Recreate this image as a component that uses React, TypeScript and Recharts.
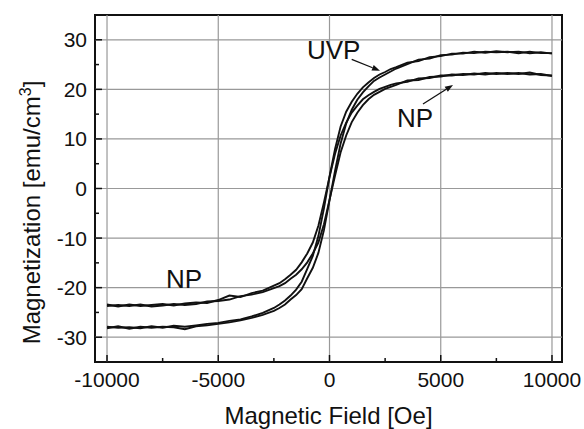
import React from "react"
import { LineChart, Line, XAxis, YAxis, ReferenceLine, ReferenceArea, ReferenceDot } from "recharts"

// applied field, Oe
const fields = [
  -10000, -9500, -9000, -8500, -8000, -7500, -7000, -6500, -6000, -5500, -5000, -4500, -4000, -3500, -3000,
  -2750, -2500, -2250, -2000, -1750, -1500, -1250, -1000, -750, -500, -250, 0, 250, 500, 750, 1000, 1250, 1500, 1750,
  2000, 2250, 2500, 2750, 3000, 3500, 4000, 4500, 5000, 5500, 6000, 6500, 7000, 7500, 8000, 8500, 9000, 9500, 10000,
]

// magnetization, emu/cm3 - descending / ascending branches
const uvpDesc = [
  -27.9, -28.1, -28.0, -28.2, -27.8, -28.1, -27.7, -27.9, -27.6, -27.3, -27.1, -26.7, -26.4, -25.8, -25.1,
  -24.6, -24.1, -23.4, -22.6, -21.6, -20.4, -18.8, -16.2, -13.6, -9.6, -4.0, 2.4, 8.0, 12.5, 15.5, 17.5, 19.1, 20.4, 21.4,
  22.3, 23.0, 23.5, 24.1, 24.5, 25.4, 25.7, 26.5, 26.7, 27.2, 27.2, 27.6, 27.4, 27.7, 27.5, 27.6, 27.3, 27.5, 27.2,
]
const uvpAsc = [
  -28.2, -27.8, -28.3, -27.9, -28.1, -27.9, -28.0, -28.4, -27.8, -27.6, -27.3, -27.0, -26.6, -26.1, -25.5,
  -25.1, -24.7, -24.1, -23.4, -22.4, -21.5, -20.3, -18.1, -16.0, -13.0, -8.4, -2.4, 3.6, 9.1, 13.1, 15.9, 17.9, 19.4, 20.6,
  21.7, 22.4, 23.0, 23.6, 24.2, 25.1, 26.0, 26.2, 26.9, 27.0, 27.4, 27.3, 27.6, 27.5, 27.6, 27.3, 27.6, 27.3, 27.3,
]
const npDesc = [
  -23.4, -23.8, -23.4, -23.7, -23.5, -23.3, -23.6, -23.2, -23.0, -23.1, -22.5, -21.6, -21.9, -21.1, -20.6,
  -20.1, -19.6, -19.1, -18.3, -17.4, -16.4, -14.9, -13.1, -10.9, -7.5, -2.8, 2.3, 7.0, 10.7, 13.3, 15.3, 16.7, 18.0, 18.8,
  19.5, 20.1, 20.5, 20.9, 21.2, 21.5, 22.2, 22.3, 22.8, 22.8, 23.1, 23.0, 23.3, 23.1, 23.3, 23.1, 23.4, 22.9, 22.8,
]
const npAsc = [
  -23.7, -23.5, -23.7, -23.4, -23.8, -23.6, -23.3, -23.5, -23.3, -22.8, -22.7, -22.4, -21.7, -21.4, -20.9,
  -20.5, -20.1, -19.7, -19.1, -18.2, -17.4, -16.3, -14.9, -13.1, -10.9, -7.2, -2.3, 2.6, 7.3, 10.7, 13.4, 15.3, 16.8, 18.0,
  18.9, 19.5, 20.1, 20.5, 20.9, 21.8, 21.9, 22.5, 22.6, 23.0, 22.9, 23.2, 23.0, 23.3, 23.1, 23.3, 23.0, 23.1, 22.7,
]

const xTicks = [-10000, -7500, -5000, -2500, 0, 2500, 5000, 7500, 10000]
const yTicks = [-30, -25, -20, -15, -10, -5, 0, 5, 10, 15, 20, 25, 30]
const xGrid = [-10000, -5000, 0, 5000, 10000]
const yGrid = [-30, -20, -10, 0, 10, 20, 30]
const xDomain: [number, number] = [-10540, 10450]
const yDomain: [number, number] = [-35, 35]

const FONT = "'Liberation Sans', Arial, sans-serif"
const INK = "#111"

const toSeries = (vals: number[]) => fields.map((h, i) => ({ h, m: vals[i] }))
const series = [uvpDesc, uvpAsc, npDesc, npAsc].map(toSeries)

const XTick = (props: any) => {
  const { x, y, payload } = props
  const major = payload.value % 5000 === 0
  return (
    <g>
      <line x1={x} x2={x} y1={y} y2={y - (major ? 7 : 4)} stroke={INK} strokeWidth={1.5} />
      {major && (
        <text x={x} y={y + 25} textAnchor="middle" fontSize={21} fontFamily={FONT} fill={INK}>
          {payload.value}
        </text>
      )}
    </g>
  )
}

const YTick = (props: any) => {
  const { x, y, payload } = props
  const major = payload.value % 10 === 0
  return (
    <g>
      <line x1={x} x2={x + (major ? 7 : 4)} y1={y} y2={y} stroke={INK} strokeWidth={1.5} />
      {major && (
        <text x={x - 8} y={y} dy="0.36em" textAnchor="end" fontSize={21} fontFamily={FONT} fill={INK}>
          {payload.value}
        </text>
      )}
    </g>
  )
}

const XTitle = (props: any) => {
  const vb = props.viewBox
  return (
    <text x={vb.x + vb.width / 2} y={vb.y + 62} textAnchor="middle" fontSize={24} fontFamily={FONT} fill={INK}>
      Magnetic Field [Oe]
    </text>
  )
}

const YTitle = (props: any) => {
  const vb = props.viewBox
  const cx = 31
  const cy = vb.y + vb.height / 2 + 24
  return (
    <text x={cx} y={cy} transform={`rotate(-90 ${cx} ${cy})`} textAnchor="middle" dy="0.36em" fontSize={24} fontFamily={FONT} fill={INK}>
      Magnetization [emu/cm
      <tspan fontSize={16} dy={-9}>3</tspan>
      <tspan dy={9}>]</tspan>
    </text>
  )
}

const Arrow = (p: any) => {
  const { x1, y1, x2, y2 } = p
  const a = Math.atan2(y2 - y1, x2 - x1)
  const L = 8
  const W = 3
  const bx = x2 - L * Math.cos(a)
  const by = y2 - L * Math.sin(a)
  const pts = [
    [x2, y2],
    [bx + W * Math.sin(a), by - W * Math.cos(a)],
    [bx - W * Math.sin(a), by + W * Math.cos(a)],
  ]
  return (
    <g>
      <line x1={x1} y1={y1} x2={bx} y2={by} stroke={INK} strokeWidth={1.3} />
      <polygon points={pts.map((q) => q.join(",")).join(" ")} fill={INK} />
    </g>
  )
}

const tag = (text: string) => (p: any) => (
  <text x={p.cx} y={p.cy} fontSize={26} fontFamily={FONT} fill={INK}>
    {text}
  </text>
)

export default function App() {
  return (
    <div style={{ position: "absolute", left: 0, top: 0, background: "#fff" }}>
      <LineChart width={584} height={429} margin={{ top: 15, right: 22, left: 0, bottom: 0 }}>
        <XAxis
          type="number"
          dataKey="h"
          domain={xDomain}
          ticks={xTicks}
          interval={0}
          allowDataOverflow
          height={67}
          axisLine={false}
          tickLine={false}
          tickSize={0}
          tickMargin={0}
          tick={<XTick />}
          label={XTitle}
        />
        <YAxis
          type="number"
          dataKey="m"
          domain={yDomain}
          ticks={yTicks}
          interval={0}
          allowDataOverflow
          width={95}
          axisLine={false}
          tickLine={false}
          tickSize={0}
          tickMargin={0}
          tick={<YTick />}
          label={YTitle}
        />
        {xGrid.map((v) => (
          <ReferenceLine key={`gx${v}`} x={v} stroke="#999" strokeWidth={1.2} />
        ))}
        {yGrid.map((v) => (
          <ReferenceLine key={`gy${v}`} y={v} stroke="#999" strokeWidth={1.2} />
        ))}
        <ReferenceArea x1={xDomain[0]} x2={xDomain[1]} y1={yDomain[0]} y2={yDomain[1]} fill="none" stroke={INK} strokeWidth={2} fillOpacity={0} />
        {series.map((d, i) => (
          <Line
            key={i}
            data={d}
            dataKey="m"
            type="linear"
            stroke={INK}
            strokeWidth={1.9}
            dot={false}
            isAnimationActive={false}
          />
        ))}
        <ReferenceLine segment={[{ x: 998, y: 26.06 }, { x: 2270, y: 23.76 }]} shape={Arrow} />
        <ReferenceLine segment={[{ x: 4202, y: 17.05 }, { x: 5551, y: 20.88 }]} shape={Arrow} />
        <ReferenceDot x={-1011} y={26.1} shape={tag("UVP")} />
        <ReferenceDot x={3034} y={12.4} shape={tag("NP")} />
        <ReferenceDot x={-7348} y={-20.07} shape={tag("NP")} />
      </LineChart>
    </div>
  )
}
